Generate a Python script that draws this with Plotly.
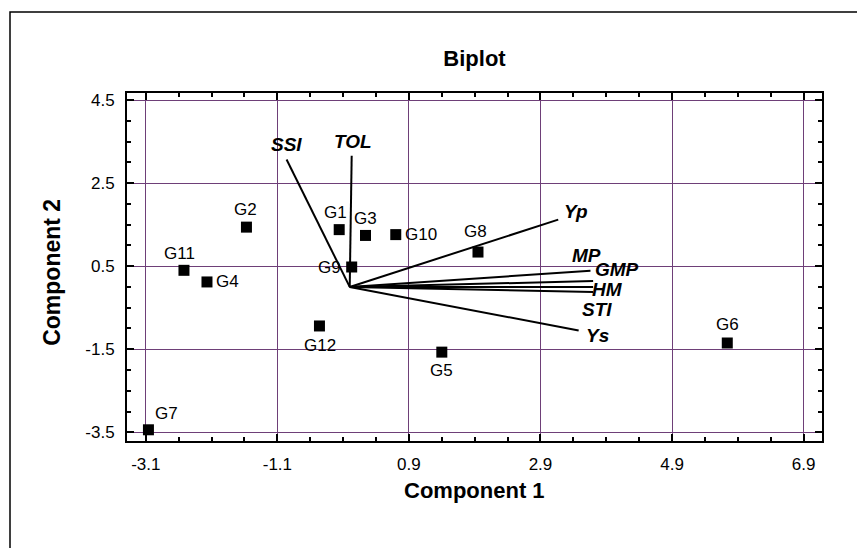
import plotly.graph_objects as go

# ---------------- data ----------------
genotypes = ["G1", "G2", "G3", "G4", "G5", "G6", "G7", "G8", "G9", "G10", "G11", "G12"]
comp1 = [-0.16, -1.57, 0.24, -2.17, 1.40, 5.74, -3.06, 1.95, 0.03, 0.70, -2.52, -0.46]
comp2 = [1.38, 1.44, 1.24, 0.12, -1.57, -1.35, -3.44, 0.84, 0.48, 1.26, 0.40, -0.94]

variables = ["SSI", "TOL", "Yp", "MP", "GMP", "HM", "STI", "Ys"]
var_c1 = [-0.96, 0.03, 3.17, 3.66, 3.70, 3.70, 3.70, 3.48]
var_c2 = [3.07, 3.16, 1.62, 0.39, 0.14, 0.00, -0.12, -1.05]

x_ticks = [-3.1, -1.1, 0.9, 2.9, 4.9, 6.9]
y_ticks = [4.5, 2.5, 0.5, -1.5, -3.5]

# ---------------- label placement (pixel shifts, style only) ----------------
g_label_shift = {
    "G1": (-4, 17), "G2": (-1, 18), "G3": (0, 17), "G4": (21, 0),
    "G5": (0, -18), "G6": (0, 19), "G7": (18, 16), "G8": (-2, 21),
    "G9": (-22, 0), "G10": (25, 0), "G11": (-4, 17), "G12": (1, -20),
}
v_label_shift = {
    "SSI": (0, 15), "TOL": (1, 14), "Yp": (18, 8), "MP": (-4, 15),
    "GMP": (24, 12), "HM": (14, -3), "STI": (4, -18), "Ys": (19, -5),
}

FONT = "Liberation Sans, Arial, sans-serif"
GRID = "#6E3F78"

fig = go.Figure()

# vectors
for name, vx, vy in zip(variables, var_c1, var_c2):
    fig.add_trace(go.Scatter(x=[0, vx], y=[0, vy], mode="lines",
                             line=dict(color="black", width=2),
                             hoverinfo="skip", showlegend=False))

# genotype points
fig.add_trace(go.Scatter(x=comp1, y=comp2, mode="markers",
                         marker=dict(symbol="square", size=11, color="black"),
                         showlegend=False))

annotations = []
for name, gx, gy in zip(genotypes, comp1, comp2):
    dx, dy = g_label_shift[name]
    annotations.append(dict(x=gx, y=gy, text=name, showarrow=False,
                            xshift=dx, yshift=dy,
                            font=dict(family=FONT, size=17, color="black")))
for name, vx, vy in zip(variables, var_c1, var_c2):
    dx, dy = v_label_shift[name]
    annotations.append(dict(x=vx, y=vy, text="<b><i>" + name + "</i></b>",
                            showarrow=False, xshift=dx, yshift=dy,
                            font=dict(family=FONT, size=19, color="black")))

# axis titles
annotations.append(dict(xref="paper", yref="paper", x=0.5, y=-0.141,
                        text="<b>Component 1</b>", showarrow=False,
                        yanchor="middle",
                        font=dict(family=FONT, size=22, color="black")))
annotations.append(dict(xref="paper", yref="paper", x=-0.108, y=0.486,
                        text="<b>Component 2</b>", showarrow=False,
                        textangle=-90, xanchor="center", yanchor="middle",
                        font=dict(family=FONT, size=23, color="black")))

axis_common = dict(
    showline=True, linecolor="black", linewidth=2, mirror="allticks",
    ticks="inside", ticklen=7, tickwidth=2, tickcolor="black",
    showgrid=True, gridcolor=GRID, gridwidth=1, zeroline=False,
    tickfont=dict(family=FONT, size=17, color="black"),
    ticklabelstandoff=7,
)

fig.update_layout(
    width=857, height=548,
    margin=dict(l=127, r=35, t=93, b=107),
    paper_bgcolor="white", plot_bgcolor="white",
    title=dict(text="<b>Biplot</b>", x=0.5, xref="paper", xanchor="center",
               y=1 - 58 / 548, yref="container", yanchor="middle",
               font=dict(family=FONT, size=22, color="black")),
    xaxis=dict(range=[-3.386, 7.18], tickmode="array", tickvals=x_ticks,
               ticktext=[str(v) for v in x_ticks],
               minor=dict(dtick=0.5, tick0=-3.1, ticks="inside", ticklen=4,
                          tickwidth=2, tickcolor="black", showgrid=False),
               **axis_common),
    yaxis=dict(range=[-3.71, 4.67], tickmode="array", tickvals=y_ticks,
               ticktext=[str(v) for v in y_ticks],
               minor=dict(dtick=0.5, tick0=-3.5, ticks="inside", ticklen=4,
                          tickwidth=2, tickcolor="black", showgrid=False),
               **axis_common),
    annotations=annotations,
    shapes=[dict(type="rect", xref="paper", yref="paper",
                 x0=(10 - 127) / 695, x1=1.3, y0=-0.5, y1=1 + (93 - 12) / 348,
                 line=dict(color="black", width=1.5), fillcolor="rgba(0,0,0,0)",
                 layer="below")],
)

fig.write_html(
    "out.html",
    config={"displayModeBar": False},
    post_script="document.body.style.margin='0';document.body.style.overflow='hidden';",
)
